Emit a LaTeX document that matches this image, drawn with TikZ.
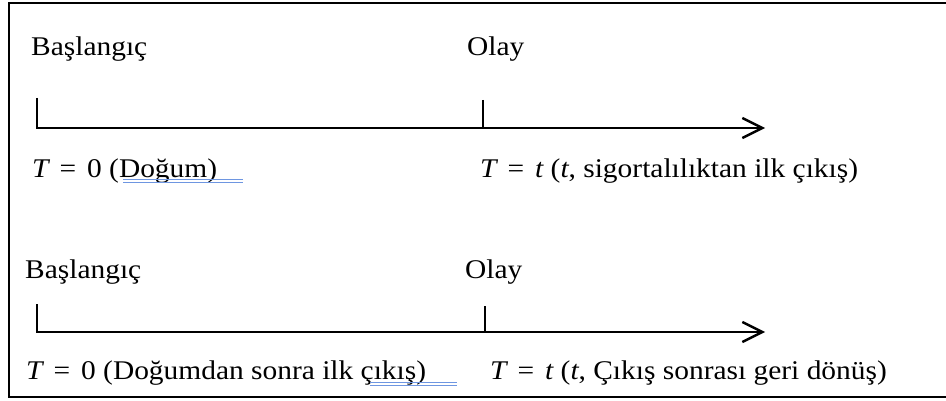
\documentclass[tikz,border=0pt]{standalone}
\usepackage{fontspec}
\setmainfont{Liberation Serif}[FakeStretch=1.09]
\usetikzlibrary{arrows.meta}
\definecolor{spell}{RGB}{110,150,225}
\newcommand{\eqpart}[1]{{\itshape T}\hspace{11pt}=\hspace{11pt}#1}
\tikzset{
  lbl/.style={anchor=base west, inner sep=0pt, font=\fontsize{27}{31}\selectfont},
  frame/.style={line width=2.3pt, black},
  axis/.style={line width=2.4pt, black, -{Straight Barb[length=20pt,width=20pt,line width=2.4pt]}},
  tick/.style={line width=2.4pt, black},
  spellmark/.style={line width=1pt, spell}
}
\begin{document}
\begin{tikzpicture}[x=1pt,y=-1pt]
\useasboundingbox (0,0) rectangle (946,401);
% frame (open on the right)
\coordinate (ftr) at (946,3);
\coordinate (ftl) at (9,3);
\coordinate (fbl) at (9,397);
\coordinate (fbr) at (946,397);
\draw[frame] (ftr) -- (ftl) -- (fbl) -- (fbr);

% ---- first timeline ----
\node[lbl] (b1) at (31,56) {Başlangıç};
\node[lbl] (ol1) at (467,56) {Olay};
\coordinate (s1top) at (37,98);
\coordinate (s1) at (37,128);
\coordinate (e1) at (765,128);
\coordinate (o1top) at (483,100);
\coordinate (o1) at (483,128);
\draw[axis] (s1top) -- (s1) -- (e1);
\draw[tick] (o1top) -- (o1);
\node[lbl] (l1) at (32,178) {\eqpart{0} (Doğum)};
\node[lbl] (r1) at (480,178) {\eqpart{{\itshape t}} ({\itshape t}, sigortalılıktan ilk çıkış)};
\coordinate (u1a) at (123,180);
\coordinate (u1b) at (243,180);
\coordinate (u1c) at (123,183);
\coordinate (u1d) at (243,183);
\draw[spellmark] (u1a) -- (u1b) (u1c) -- (u1d);

% ---- second timeline ----
\node[lbl] (b2) at (25,278) {Başlangıç};
\node[lbl] (ol2) at (465,278) {Olay};
\coordinate (s2top) at (37,304);
\coordinate (s2) at (37,332);
\coordinate (e2) at (765,332);
\coordinate (o2top) at (485,306);
\coordinate (o2) at (485,332);
\draw[axis] (s2top) -- (s2) -- (e2);
\draw[tick] (o2top) -- (o2);
\node[lbl] (l2) at (26,379) {\eqpart{0} (Doğumdan sonra ilk çıkış)};
\node[lbl] (r2) at (490,379) {\eqpart{{\itshape t}} ({\itshape t}, Çıkış sonrası geri dönüş)};
\coordinate (u2a) at (370,382);
\coordinate (u2b) at (457,382);
\coordinate (u2c) at (370,385);
\coordinate (u2d) at (457,385);
\draw[spellmark] (u2a) -- (u2b) (u2c) -- (u2d);
\end{tikzpicture}
\end{document}
